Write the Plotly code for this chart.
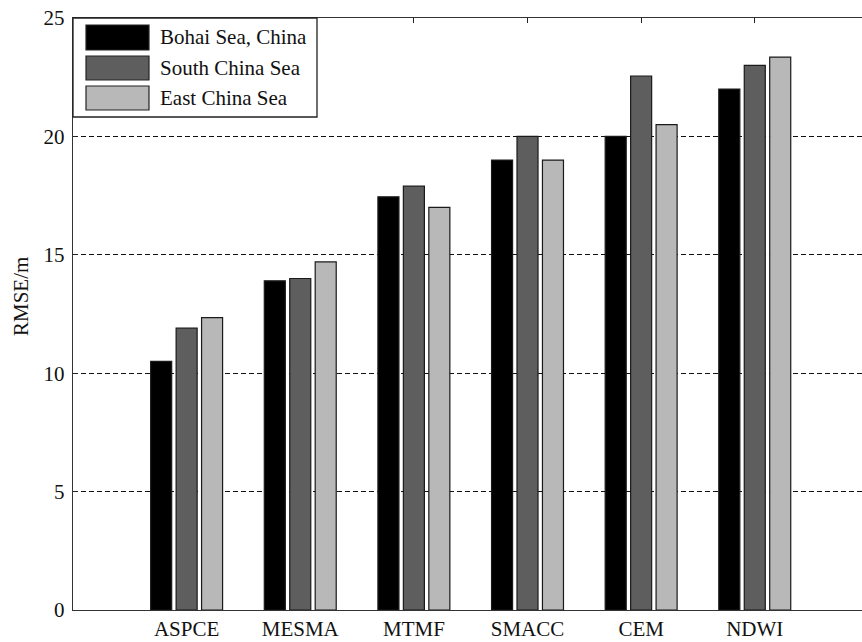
import plotly.graph_objects as go

# Methods compared and RMSE (m) for each sea area
methods = ["ASPCE", "MESMA", "MTMF", "SMACC", "CEM", "NDWI"]
bohai = [10.5, 13.9, 17.45, 19.0, 20.0, 22.0]
south_china = [11.9, 14.0, 17.9, 20.0, 22.55, 23.0]
east_china = [12.35, 14.7, 17.0, 19.0, 20.5, 23.35]

series_names = ["Bohai Sea, China", "South China Sea", "East China Sea"]
series_values = [bohai, south_china, east_china]
series_colors = ["#000000", "#5e5e5e", "#b8b8b8"]

W, H = 862, 642
L, T, B, R = 73, 18, 32, 0
PW, PH = W - L - R, H - T - B
FONT = "Liberation Serif, Times New Roman, serif"
xpos = list(range(1, len(methods) + 1))


def px(x):
    return (x - L) / PW


def py(y):
    return (H - B - y) / PH


fig = go.Figure()
for name, vals, col in zip(series_names, series_values, series_colors):
    fig.add_trace(go.Bar(
        x=xpos, y=vals, name=name, marker_color=col,
        marker_line=dict(color="#1a1a1a", width=1.2),
        showlegend=False,
    ))

# Boxed legend with wide swatches in the upper-left corner
shapes = [dict(type="rect", xref="paper", yref="paper",
               x0=px(73), x1=px(317), y0=py(117), y1=py(18),
               fillcolor="white", line=dict(color="#222", width=1.3), layer="above")]
annotations = []
rows = [(25, 50), (56, 80), (86, 110)]
for (y0, y1), name, col in zip(rows, series_names, series_colors):
    shapes.append(dict(type="rect", xref="paper", yref="paper",
                       x0=px(86), x1=px(149), y0=py(y1), y1=py(y0),
                       fillcolor=col, line=dict(color="#222", width=1.2), layer="above"))
    annotations.append(dict(xref="paper", yref="paper", x=px(158), y=py((y0 + y1) / 2),
                            text=name, showarrow=False, xanchor="left", yanchor="middle",
                            font=dict(family=FONT, size=21, color="#111")))

annotations.append(dict(xref="paper", yref="paper", x=px(21), y=py(297),
                        text="RMSE/m", textangle=-90, showarrow=False,
                        xanchor="center", yanchor="middle",
                        font=dict(family=FONT, size=21, color="#111")))

fig.update_layout(
    width=W, height=H,
    margin=dict(l=L, r=R, t=T, b=B, pad=0),
    paper_bgcolor="white", plot_bgcolor="white",
    barmode="group", bargap=0.328, bargroupgap=0.174,
    font=dict(family=FONT, size=21, color="#111"),
    shapes=shapes, annotations=annotations,
    xaxis=dict(
        range=[0, (W - 72.5) / 113.7],
        tickvals=xpos, ticktext=methods,
        ticks="inside", ticklen=5, tickwidth=1.2, tickcolor="#222",
        showline=True, linecolor="#333", linewidth=1.4, mirror="ticks",
        showgrid=False, zeroline=False, layer="below traces",
        tickfont=dict(family=FONT, size=21, color="#111"),
    ),
    yaxis=dict(
        range=[0, 25], tickvals=[0, 5, 10, 15, 20, 25],
        ticks="inside", ticklen=5, tickwidth=1.2, tickcolor="#222",
        showline=True, linecolor="#333", linewidth=1.4,
        showgrid=True, gridcolor="#111", gridwidth=1.1, griddash="5px,3px",
        zeroline=False, layer="below traces", ticklabelstandoff=3,
        tickfont=dict(family=FONT, size=21, color="#111"),
    ),
)

fig.write_html("out.html")
